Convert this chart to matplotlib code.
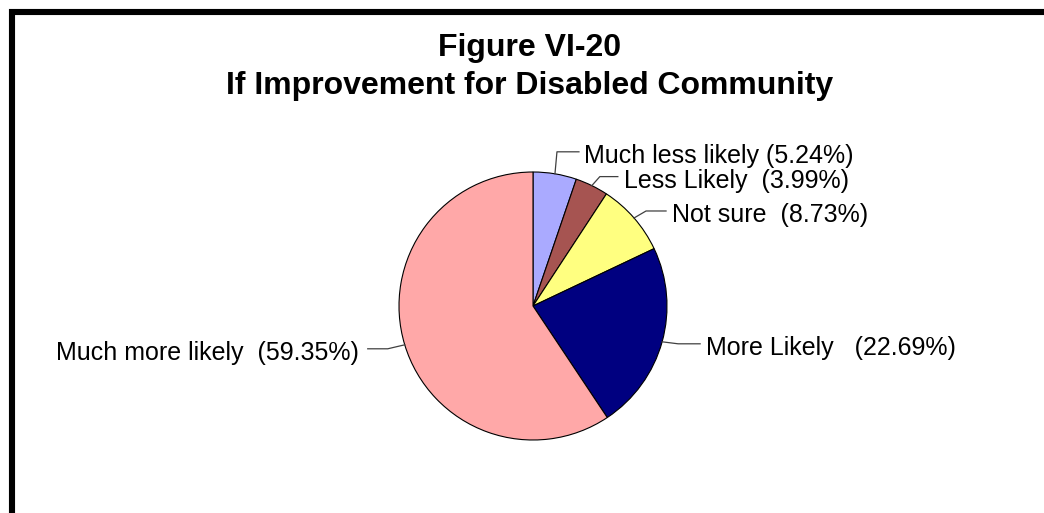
import matplotlib.pyplot as plt
import numpy as np
from matplotlib.patches import Rectangle

plt.rcParams['font.family'] = ['Liberation Sans', 'DejaVu Sans']

# Data
labels = ["Much less likely (5.24%)", "Less Likely  (3.99%)", "Not sure  (8.73%)",
          "More Likely   (22.69%)", "Much more likely  (59.35%)"]
shares = [5.24, 3.99, 8.73, 22.69, 59.35]
colors = ["#AAAAFF", "#A65451", "#FFFF80", "#000080", "#FFA8A8"]

# leader-line layout (pixels): elbow offset, horizontal end offset, text gap
elbows = [(2, 22), (8, 9), (12, 7), (16, -2), (-17, -4)]
ends = [24, 26, 32, 38, -37]
text_gap = [5, 6, 6, 6, 9]

W, H = 1044, 513
fig = plt.figure(figsize=(W / 100, H / 100), dpi=100)
ax = fig.add_axes([0, 0, 1, 1])

cx, cy, r = 533, H - 306, 134
wedges, _ = ax.pie(shares, colors=colors, startangle=90, counterclock=False,
                   center=(cx, cy), radius=r, frame=True,
                   wedgeprops=dict(edgecolor='black', linewidth=0.8))
ax.set_xlim(0, W)
ax.set_ylim(0, H)
ax.set_aspect('equal')
ax.axis('off')

for w, lab, (ex, ey), hx, g in zip(wedges, labels, elbows, ends, text_gap):
    mid = np.deg2rad((w.theta1 + w.theta2) / 2)
    px, py = cx + r * np.cos(mid), cy + r * np.sin(mid)
    ax.plot([px, px + ex, px + hx], [py, py + ey, py + ey],
            color='#404040', linewidth=0.9)
    side = 1 if hx > 0 else -1
    ax.text(px + hx + side * g, py + ey - 11, lab, fontsize=18,
            ha='left' if side > 0 else 'right', va='baseline')

ax.text(530, H - 67, "Figure VI-20\nIf Improvement for Disabled Community",
        fontsize=23, fontweight='bold', ha='center', va='center', linespacing=1.32)

# thick frame (top and left visible)
ax.add_patch(Rectangle((12, -20), W + 20, H - 12 + 20, fill=False,
                       edgecolor='black', linewidth=4.4, clip_on=False))

fig.savefig("out.png", dpi=100)
